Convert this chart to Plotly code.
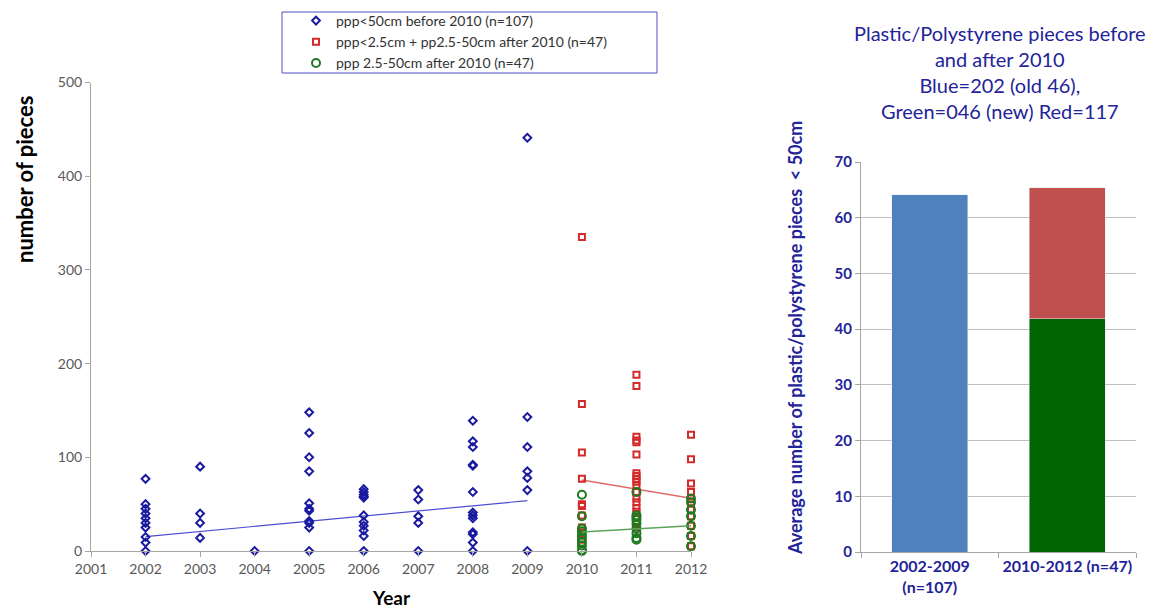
import plotly.graph_objects as go

# page body has an 8px margin: figure drawn from (8, 8)
OFF = 8
W, H = 1163 - OFF, 611 - OFF

# ---------------- data ----------------
blue_years = {
    2002: [77, 50, 45, 40, 35, 30, 25, 15, 9, 0],
    2003: [90, 40, 30, 14],
    2004: [0],
    2005: [148, 126, 100, 85, 51, 45, 43, 32, 30, 25, 0],
    2006: [66, 63, 60, 58, 57, 38, 31, 27, 22, 16, 0],
    2007: [65, 55, 37, 30, 0],
    2008: [139, 117, 111, 92, 91, 63, 41, 38, 35, 20, 18, 9, 0],
    2009: [441, 143, 111, 85, 78, 65, 0],
}
red_years = {
    2010: [335, 157, 105, 77, 50, 48, 38, 25, 20, 12],
    2011: [188, 176, 122, 118, 116, 103, 83, 80, 77, 74, 70, 63, 56, 52, 46, 42, 36, 30, 25],
    2012: [124, 98, 72, 63, 56, 52, 44, 37, 27, 16, 5],
}
green_years = {
    2010: [60, 37, 24, 21, 17, 14, 10, 6, 1, 0],
    2011: [63, 38, 36, 33, 29, 24, 19, 14, 12],
    2012: [56, 52, 44, 37, 27, 16, 5],
}
blue_trend_years = [2002, 2009]
blue_trend_values = [15.3, 53.7]
red_trend_years = [2010, 2012]
red_trend_values = [75.8, 56.2]
green_trend_years = [2010, 2012]
green_trend_values = [20.3, 27.0]

bar_categories = ["2002-2009<br>(n=107)", "2010-2012 (n=47)"]
bar_before = [64.1]
bar_after_green = [41.9]
bar_after_red = [23.5]

legend_names = [
    "ppp<50cm before 2010 (n=107)",
    "ppp<2.5cm + pp2.5-50cm after 2010 (n=47)",
    "ppp 2.5-50cm after 2010 (n=47)",
]
x_ticks = list(range(2001, 2013))
y_ticks = [0, 100, 200, 300, 400, 500]
bar_y_ticks = [0, 10, 20, 30, 40, 50, 60, 70]


def flatten(d):
    xs, ys = [], []
    for k, vals in d.items():
        for v in vals:
            xs.append(k)
            ys.append(v)
    return xs, ys


NAVY = "#23239a"
GRAY_TXT = "#595959"
AX = "#a6a6a6"
FONT = "Lato"

fig = go.Figure()

bx, by = flatten(blue_years)
rx, ry = flatten(red_years)
gx, gy = flatten(green_years)

# trend lines
fig.add_trace(go.Scatter(x=blue_trend_years, y=blue_trend_values, mode="lines",
                         line=dict(color="#4b4bd0", width=1.2), showlegend=False,
                         xaxis="x", yaxis="y", hoverinfo="skip"))
fig.add_trace(go.Scatter(x=red_trend_years, y=red_trend_values, mode="lines",
                         line=dict(color="#e06a6a", width=1.5), showlegend=False,
                         xaxis="x", yaxis="y", hoverinfo="skip"))

fig.add_trace(go.Scatter(x=bx, y=by, mode="markers", name=legend_names[0],
                         marker=dict(symbol="diamond-open", size=6, color="#1a1aa0",
                                     line=dict(width=2, color="#1a1aa0")),
                         cliponaxis=False, xaxis="x", yaxis="y"))
fig.add_trace(go.Scatter(x=rx, y=ry, mode="markers", name=legend_names[1],
                         marker=dict(symbol="square-open", size=6, color="#d42a2a",
                                     line=dict(width=2, color="#d42a2a")),
                         cliponaxis=False, xaxis="x", yaxis="y"))
fig.add_trace(go.Scatter(x=gx, y=gy, mode="markers", name=legend_names[2],
                         marker=dict(symbol="circle-open", size=8, color="#1f7a1f",
                                     line=dict(width=2, color="#1f7a1f")),
                         cliponaxis=False, xaxis="x", yaxis="y"))
fig.add_trace(go.Scatter(x=green_trend_years, y=green_trend_values, mode="lines",
                         line=dict(color="#5aa55a", width=1.5), showlegend=False,
                         xaxis="x", yaxis="y", hoverinfo="skip"))

# bars
fig.add_trace(go.Bar(x=[bar_categories[0]], y=bar_before, marker=dict(color="#4f81bd"),
                     showlegend=False, xaxis="x2", yaxis="y2"))
fig.add_trace(go.Bar(x=[bar_categories[1]], y=bar_after_green, marker=dict(color="#006400"),
                     showlegend=False, xaxis="x2", yaxis="y2"))
fig.add_trace(go.Bar(x=[bar_categories[1]], y=bar_after_red, marker=dict(color="#c0504d"),
                     showlegend=False, xaxis="x2", yaxis="y2"))


def px_x(p):
    return (p - OFF) / W


def px_y(p):
    return 1 - (p - OFF) / H


fig.update_layout(
    width=W, height=H,
    margin=dict(l=0, r=0, t=0, b=0, autoexpand=False),
    paper_bgcolor="white", plot_bgcolor="white",
    font=dict(family=FONT, size=14, color=GRAY_TXT),
    barmode="stack", bargap=0.45,
    xaxis=dict(domain=[px_x(91), px_x(691)], range=[2001, 2012], tickvals=x_ticks,
               showgrid=False, zeroline=False, showline=True, linecolor=AX, linewidth=1,
               ticks="outside", ticklen=5, tickcolor=AX, automargin=False,
               tickfont=dict(family=FONT, size=14, color=GRAY_TXT), anchor="y"),
    yaxis=dict(domain=[px_y(551), px_y(82.5)], range=[0, 500], tickvals=y_ticks,
               showgrid=False, zeroline=False, showline=True, linecolor=AX, linewidth=1,
               ticks="outside", ticklen=5, tickcolor=AX, automargin=False,
               tickfont=dict(family=FONT, size=14, color=GRAY_TXT), anchor="x"),
    xaxis2=dict(domain=[px_x(861), px_x(1136)], type="category", tickangle=0,
                showgrid=False, zeroline=False, showline=True, linecolor=AX, linewidth=1,
                ticks="outside", tickson="boundaries", ticklen=5, tickcolor=AX,
                automargin=False,
                tickfont=dict(family=FONT, size=16, color=NAVY, weight="bold"), anchor="y2"),
    yaxis2=dict(domain=[px_y(552), px_y(162)], range=[0, 70], tickvals=bar_y_ticks,
                showgrid=True, gridcolor="#bfbfbf", gridwidth=1, zeroline=False,
                showline=True, linecolor=AX, linewidth=1,
                ticks="outside", ticklen=5, tickcolor=AX, automargin=False,
                tickfont=dict(family=FONT, size=15, color=NAVY, weight="bold"), anchor="x2"),
    legend=dict(x=px_x(296), y=px_y(5), xanchor="left", yanchor="top",
                bgcolor="rgba(0,0,0,0)", borderwidth=0, traceorder="normal",
                font=dict(family=FONT, size=14, color="#333333"),
                tracegroupgap=0),
    shapes=[dict(type="rect", xref="paper", yref="paper",
                 x0=px_x(282), x1=px_x(657), y0=px_y(73), y1=px_y(12),
                 line=dict(color="#5050c0", width=1))],
    annotations=[
        dict(text="number of pieces", x=px_x(24), y=px_y(180), xref="paper", yref="paper",
             textangle=-90, showarrow=False, xanchor="center", yanchor="middle",
             font=dict(family=FONT, size=22, color="black", weight="bold")),
        dict(text="Year", x=px_x(391), y=0, xref="paper", yref="paper",
             showarrow=False, xanchor="center", yanchor="bottom",
             font=dict(family=FONT, size=19, color="black", weight="bold")),
        dict(text="Plastic/Polystyrene pieces before<br>and after 2010<br>Blue=202 (old 46),<br>Green=046 (new) Red=117",
             x=px_x(1000), y=px_y(19), xref="paper", yref="paper",
             showarrow=False, xanchor="center", yanchor="top", align="center",
             font=dict(family=FONT, size=20, color=NAVY)),
        dict(text="Average number of plastic/polystyrene pieces  < 50cm",
             x=px_x(795), y=px_y(338), xref="paper", yref="paper",
             textangle=-90, showarrow=False, xanchor="center", yanchor="middle",
             font=dict(family=FONT, size=18, color=NAVY, weight="bold")),
    ],
)

fig.write_html("out.html")
